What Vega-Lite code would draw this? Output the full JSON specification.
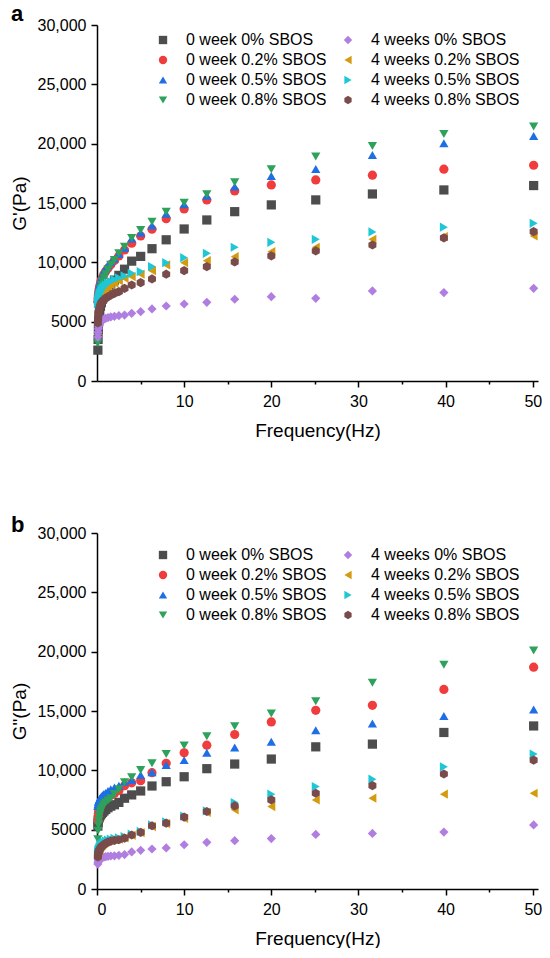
{
"$schema": "https://vega.github.io/schema/vega-lite/v6.json",
"background": "white",
"padding": {"left": 10, "top": 3, "right": 5, "bottom": 0},
"config": {
"font": "Liberation Sans",
"view": {"stroke": null},
"axis": {"domainColor": "black", "domainWidth": 1.5, "tickColor": "black", "tickWidth": 1.5, "labelColor": "black", "titleColor": "black", "labelFontSize": 16, "titleFontSize": 19, "titleFontWeight": "normal", "grid": false, "labelFont": "Liberation Sans", "titleFont": "Liberation Sans"},
"legend": {"labelFont": "Liberation Sans", "labelFontSize": 16, "labelColor": "black"},
"concat": {"spacing": 74}
},
"datasets": {
"gp": [
{"s":"0 week 0% SBOS","f":0.1,"v":2600},{"s":"0 week 0% SBOS","f":0.126,"v":3500},{"s":"0 week 0% SBOS","f":0.158,"v":4300},{"s":"0 week 0% SBOS","f":0.2,"v":5000},{"s":"0 week 0% SBOS","f":0.251,"v":5500},{"s":"0 week 0% SBOS","f":0.316,"v":5900},{"s":"0 week 0% SBOS","f":0.398,"v":6300},{"s":"0 week 0% SBOS","f":0.501,"v":6600},{"s":"0 week 0% SBOS","f":0.631,"v":6900},{"s":"0 week 0% SBOS","f":0.794,"v":7200},{"s":"0 week 0% SBOS","f":1,"v":7500},{"s":"0 week 0% SBOS","f":1.26,"v":7800},{"s":"0 week 0% SBOS","f":1.58,"v":8100},{"s":"0 week 0% SBOS","f":2,"v":8500},{"s":"0 week 0% SBOS","f":2.51,"v":8900},{"s":"0 week 0% SBOS","f":3.16,"v":9420},{"s":"0 week 0% SBOS","f":3.98,"v":10100},{"s":"0 week 0% SBOS","f":5.01,"v":10500},{"s":"0 week 0% SBOS","f":6.31,"v":11150},{"s":"0 week 0% SBOS","f":7.94,"v":11900},{"s":"0 week 0% SBOS","f":10,"v":12810},{"s":"0 week 0% SBOS","f":12.6,"v":13570},{"s":"0 week 0% SBOS","f":15.8,"v":14270},{"s":"0 week 0% SBOS","f":20,"v":14840},{"s":"0 week 0% SBOS","f":25.1,"v":15260},{"s":"0 week 0% SBOS","f":31.6,"v":15760},{"s":"0 week 0% SBOS","f":39.8,"v":16100},{"s":"0 week 0% SBOS","f":50.1,"v":16470},
{"s":"0 week 0.2% SBOS","f":0.1,"v":6700},{"s":"0 week 0.2% SBOS","f":0.126,"v":7000},{"s":"0 week 0.2% SBOS","f":0.158,"v":7250},{"s":"0 week 0.2% SBOS","f":0.2,"v":7500},{"s":"0 week 0.2% SBOS","f":0.251,"v":7750},{"s":"0 week 0.2% SBOS","f":0.316,"v":8000},{"s":"0 week 0.2% SBOS","f":0.398,"v":8250},{"s":"0 week 0.2% SBOS","f":0.501,"v":8500},{"s":"0 week 0.2% SBOS","f":0.631,"v":8750},{"s":"0 week 0.2% SBOS","f":0.794,"v":9000},{"s":"0 week 0.2% SBOS","f":1,"v":9250},{"s":"0 week 0.2% SBOS","f":1.26,"v":9500},{"s":"0 week 0.2% SBOS","f":1.58,"v":9800},{"s":"0 week 0.2% SBOS","f":2,"v":10150},{"s":"0 week 0.2% SBOS","f":2.51,"v":10540},{"s":"0 week 0.2% SBOS","f":3.16,"v":11040},{"s":"0 week 0.2% SBOS","f":3.98,"v":11610},{"s":"0 week 0.2% SBOS","f":5.01,"v":12220},{"s":"0 week 0.2% SBOS","f":6.31,"v":12790},{"s":"0 week 0.2% SBOS","f":7.94,"v":13680},{"s":"0 week 0.2% SBOS","f":10,"v":14500},{"s":"0 week 0.2% SBOS","f":12.6,"v":15260},{"s":"0 week 0.2% SBOS","f":15.8,"v":16020},{"s":"0 week 0.2% SBOS","f":20,"v":16520},{"s":"0 week 0.2% SBOS","f":25.1,"v":16940},{"s":"0 week 0.2% SBOS","f":31.6,"v":17340},{"s":"0 week 0.2% SBOS","f":39.8,"v":17850},{"s":"0 week 0.2% SBOS","f":50.1,"v":18180},
{"s":"0 week 0.5% SBOS","f":0.1,"v":6900},{"s":"0 week 0.5% SBOS","f":0.126,"v":7200},{"s":"0 week 0.5% SBOS","f":0.158,"v":7500},{"s":"0 week 0.5% SBOS","f":0.2,"v":7750},{"s":"0 week 0.5% SBOS","f":0.251,"v":8000},{"s":"0 week 0.5% SBOS","f":0.316,"v":8250},{"s":"0 week 0.5% SBOS","f":0.398,"v":8500},{"s":"0 week 0.5% SBOS","f":0.501,"v":8750},{"s":"0 week 0.5% SBOS","f":0.631,"v":9000},{"s":"0 week 0.5% SBOS","f":0.794,"v":9250},{"s":"0 week 0.5% SBOS","f":1,"v":9500},{"s":"0 week 0.5% SBOS","f":1.26,"v":9750},{"s":"0 week 0.5% SBOS","f":1.58,"v":10000},{"s":"0 week 0.5% SBOS","f":2,"v":10300},{"s":"0 week 0.5% SBOS","f":2.51,"v":10700},{"s":"0 week 0.5% SBOS","f":3.16,"v":11200},{"s":"0 week 0.5% SBOS","f":3.98,"v":12000},{"s":"0 week 0.5% SBOS","f":5.01,"v":12500},{"s":"0 week 0.5% SBOS","f":6.31,"v":13100},{"s":"0 week 0.5% SBOS","f":7.94,"v":14100},{"s":"0 week 0.5% SBOS","f":10,"v":14900},{"s":"0 week 0.5% SBOS","f":12.6,"v":15600},{"s":"0 week 0.5% SBOS","f":15.8,"v":16380},{"s":"0 week 0.5% SBOS","f":20,"v":17280},{"s":"0 week 0.5% SBOS","f":25.1,"v":17870},{"s":"0 week 0.5% SBOS","f":31.6,"v":19050},{"s":"0 week 0.5% SBOS","f":39.8,"v":20040},{"s":"0 week 0.5% SBOS","f":50.1,"v":20650},
{"s":"0 week 0.8% SBOS","f":0.1,"v":3200},{"s":"0 week 0.8% SBOS","f":0.126,"v":4500},{"s":"0 week 0.8% SBOS","f":0.158,"v":5600},{"s":"0 week 0.8% SBOS","f":0.2,"v":6400},{"s":"0 week 0.8% SBOS","f":0.251,"v":7000},{"s":"0 week 0.8% SBOS","f":0.316,"v":7400},{"s":"0 week 0.8% SBOS","f":0.398,"v":7800},{"s":"0 week 0.8% SBOS","f":0.501,"v":8100},{"s":"0 week 0.8% SBOS","f":0.631,"v":8400},{"s":"0 week 0.8% SBOS","f":0.794,"v":8700},{"s":"0 week 0.8% SBOS","f":1,"v":9000},{"s":"0 week 0.8% SBOS","f":1.26,"v":9400},{"s":"0 week 0.8% SBOS","f":1.58,"v":9800},{"s":"0 week 0.8% SBOS","f":2,"v":10200},{"s":"0 week 0.8% SBOS","f":2.51,"v":10760},{"s":"0 week 0.8% SBOS","f":3.16,"v":11320},{"s":"0 week 0.8% SBOS","f":3.98,"v":12050},{"s":"0 week 0.8% SBOS","f":5.01,"v":12730},{"s":"0 week 0.8% SBOS","f":6.31,"v":13430},{"s":"0 week 0.8% SBOS","f":7.94,"v":14270},{"s":"0 week 0.8% SBOS","f":10,"v":15030},{"s":"0 week 0.8% SBOS","f":12.6,"v":15740},{"s":"0 week 0.8% SBOS","f":15.8,"v":16750},{"s":"0 week 0.8% SBOS","f":20,"v":17850},{"s":"0 week 0.8% SBOS","f":25.1,"v":18910},{"s":"0 week 0.8% SBOS","f":31.6,"v":19810},{"s":"0 week 0.8% SBOS","f":39.8,"v":20820},{"s":"0 week 0.8% SBOS","f":50.1,"v":21440},
{"s":"4 weeks 0% SBOS","f":0.1,"v":3700},{"s":"4 weeks 0% SBOS","f":0.126,"v":4100},{"s":"4 weeks 0% SBOS","f":0.158,"v":4400},{"s":"4 weeks 0% SBOS","f":0.2,"v":4600},{"s":"4 weeks 0% SBOS","f":0.251,"v":4750},{"s":"4 weeks 0% SBOS","f":0.316,"v":4870},{"s":"4 weeks 0% SBOS","f":0.398,"v":4970},{"s":"4 weeks 0% SBOS","f":0.501,"v":5060},{"s":"4 weeks 0% SBOS","f":0.631,"v":5140},{"s":"4 weeks 0% SBOS","f":0.794,"v":5210},{"s":"4 weeks 0% SBOS","f":1,"v":5280},{"s":"4 weeks 0% SBOS","f":1.26,"v":5340},{"s":"4 weeks 0% SBOS","f":1.58,"v":5400},{"s":"4 weeks 0% SBOS","f":2,"v":5450},{"s":"4 weeks 0% SBOS","f":2.51,"v":5500},{"s":"4 weeks 0% SBOS","f":3.16,"v":5560},{"s":"4 weeks 0% SBOS","f":3.98,"v":5700},{"s":"4 weeks 0% SBOS","f":5.01,"v":5840},{"s":"4 weeks 0% SBOS","f":6.31,"v":6070},{"s":"4 weeks 0% SBOS","f":7.94,"v":6320},{"s":"4 weeks 0% SBOS","f":10,"v":6490},{"s":"4 weeks 0% SBOS","f":12.6,"v":6630},{"s":"4 weeks 0% SBOS","f":15.8,"v":6890},{"s":"4 weeks 0% SBOS","f":20,"v":7110},{"s":"4 weeks 0% SBOS","f":25.1,"v":6970},{"s":"4 weeks 0% SBOS","f":31.6,"v":7590},{"s":"4 weeks 0% SBOS","f":39.8,"v":7450},{"s":"4 weeks 0% SBOS","f":50.1,"v":7810},
{"s":"4 weeks 0.2% SBOS","f":0.1,"v":6200},{"s":"4 weeks 0.2% SBOS","f":0.126,"v":6400},{"s":"4 weeks 0.2% SBOS","f":0.158,"v":6600},{"s":"4 weeks 0.2% SBOS","f":0.2,"v":6750},{"s":"4 weeks 0.2% SBOS","f":0.251,"v":6900},{"s":"4 weeks 0.2% SBOS","f":0.316,"v":7050},{"s":"4 weeks 0.2% SBOS","f":0.398,"v":7200},{"s":"4 weeks 0.2% SBOS","f":0.501,"v":7350},{"s":"4 weeks 0.2% SBOS","f":0.631,"v":7500},{"s":"4 weeks 0.2% SBOS","f":0.794,"v":7650},{"s":"4 weeks 0.2% SBOS","f":1,"v":7800},{"s":"4 weeks 0.2% SBOS","f":1.26,"v":7950},{"s":"4 weeks 0.2% SBOS","f":1.58,"v":8100},{"s":"4 weeks 0.2% SBOS","f":2,"v":8250},{"s":"4 weeks 0.2% SBOS","f":2.51,"v":8450},{"s":"4 weeks 0.2% SBOS","f":3.16,"v":8650},{"s":"4 weeks 0.2% SBOS","f":3.98,"v":8800},{"s":"4 weeks 0.2% SBOS","f":5.01,"v":9000},{"s":"4 weeks 0.2% SBOS","f":6.31,"v":9300},{"s":"4 weeks 0.2% SBOS","f":7.94,"v":9780},{"s":"4 weeks 0.2% SBOS","f":10,"v":9970},{"s":"4 weeks 0.2% SBOS","f":12.6,"v":10140},{"s":"4 weeks 0.2% SBOS","f":15.8,"v":10480},{"s":"4 weeks 0.2% SBOS","f":20,"v":10900},{"s":"4 weeks 0.2% SBOS","f":25.1,"v":11270},{"s":"4 weeks 0.2% SBOS","f":31.6,"v":11940},{"s":"4 weeks 0.2% SBOS","f":39.8,"v":12170},{"s":"4 weeks 0.2% SBOS","f":50.1,"v":12220},
{"s":"4 weeks 0.5% SBOS","f":0.1,"v":6500},{"s":"4 weeks 0.5% SBOS","f":0.126,"v":6700},{"s":"4 weeks 0.5% SBOS","f":0.158,"v":6900},{"s":"4 weeks 0.5% SBOS","f":0.2,"v":7050},{"s":"4 weeks 0.5% SBOS","f":0.251,"v":7200},{"s":"4 weeks 0.5% SBOS","f":0.316,"v":7350},{"s":"4 weeks 0.5% SBOS","f":0.398,"v":7500},{"s":"4 weeks 0.5% SBOS","f":0.501,"v":7650},{"s":"4 weeks 0.5% SBOS","f":0.631,"v":7800},{"s":"4 weeks 0.5% SBOS","f":0.794,"v":7950},{"s":"4 weeks 0.5% SBOS","f":1,"v":8100},{"s":"4 weeks 0.5% SBOS","f":1.26,"v":8250},{"s":"4 weeks 0.5% SBOS","f":1.58,"v":8400},{"s":"4 weeks 0.5% SBOS","f":2,"v":8550},{"s":"4 weeks 0.5% SBOS","f":2.51,"v":8700},{"s":"4 weeks 0.5% SBOS","f":3.16,"v":8850},{"s":"4 weeks 0.5% SBOS","f":3.98,"v":9080},{"s":"4 weeks 0.5% SBOS","f":5.01,"v":9220},{"s":"4 weeks 0.5% SBOS","f":6.31,"v":9640},{"s":"4 weeks 0.5% SBOS","f":7.94,"v":9970},{"s":"4 weeks 0.5% SBOS","f":10,"v":10390},{"s":"4 weeks 0.5% SBOS","f":12.6,"v":10760},{"s":"4 weeks 0.5% SBOS","f":15.8,"v":11270},{"s":"4 weeks 0.5% SBOS","f":20,"v":11690},{"s":"4 weeks 0.5% SBOS","f":25.1,"v":11940},{"s":"4 weeks 0.5% SBOS","f":31.6,"v":12560},{"s":"4 weeks 0.5% SBOS","f":39.8,"v":12960},{"s":"4 weeks 0.5% SBOS","f":50.1,"v":13290},
{"s":"4 weeks 0.8% SBOS","f":0.1,"v":4900},{"s":"4 weeks 0.8% SBOS","f":0.126,"v":5300},{"s":"4 weeks 0.8% SBOS","f":0.158,"v":5600},{"s":"4 weeks 0.8% SBOS","f":0.2,"v":5850},{"s":"4 weeks 0.8% SBOS","f":0.251,"v":6050},{"s":"4 weeks 0.8% SBOS","f":0.316,"v":6250},{"s":"4 weeks 0.8% SBOS","f":0.398,"v":6420},{"s":"4 weeks 0.8% SBOS","f":0.501,"v":6580},{"s":"4 weeks 0.8% SBOS","f":0.631,"v":6720},{"s":"4 weeks 0.8% SBOS","f":0.794,"v":6850},{"s":"4 weeks 0.8% SBOS","f":1,"v":6980},{"s":"4 weeks 0.8% SBOS","f":1.26,"v":7100},{"s":"4 weeks 0.8% SBOS","f":1.58,"v":7230},{"s":"4 weeks 0.8% SBOS","f":2,"v":7380},{"s":"4 weeks 0.8% SBOS","f":2.51,"v":7530},{"s":"4 weeks 0.8% SBOS","f":3.16,"v":7810},{"s":"4 weeks 0.8% SBOS","f":3.98,"v":8090},{"s":"4 weeks 0.8% SBOS","f":5.01,"v":8290},{"s":"4 weeks 0.8% SBOS","f":6.31,"v":8600},{"s":"4 weeks 0.8% SBOS","f":7.94,"v":9000},{"s":"4 weeks 0.8% SBOS","f":10,"v":9300},{"s":"4 weeks 0.8% SBOS","f":12.6,"v":9640},{"s":"4 weeks 0.8% SBOS","f":15.8,"v":10030},{"s":"4 weeks 0.8% SBOS","f":20,"v":10540},{"s":"4 weeks 0.8% SBOS","f":25.1,"v":10960},{"s":"4 weeks 0.8% SBOS","f":31.6,"v":11460},{"s":"4 weeks 0.8% SBOS","f":39.8,"v":12060},{"s":"4 weeks 0.8% SBOS","f":50.1,"v":12590}
],
"gpp": [
{"s":"0 week 0% SBOS","f":0.1,"v":5300},{"s":"0 week 0% SBOS","f":0.126,"v":5600},{"s":"0 week 0% SBOS","f":0.158,"v":5800},{"s":"0 week 0% SBOS","f":0.2,"v":5950},{"s":"0 week 0% SBOS","f":0.251,"v":6050},{"s":"0 week 0% SBOS","f":0.316,"v":6150},{"s":"0 week 0% SBOS","f":0.398,"v":6250},{"s":"0 week 0% SBOS","f":0.501,"v":6350},{"s":"0 week 0% SBOS","f":0.631,"v":6450},{"s":"0 week 0% SBOS","f":0.794,"v":6570},{"s":"0 week 0% SBOS","f":1,"v":6700},{"s":"0 week 0% SBOS","f":1.26,"v":6850},{"s":"0 week 0% SBOS","f":1.58,"v":6980},{"s":"0 week 0% SBOS","f":2,"v":7100},{"s":"0 week 0% SBOS","f":2.51,"v":7300},{"s":"0 week 0% SBOS","f":3.16,"v":7650},{"s":"0 week 0% SBOS","f":3.98,"v":7930},{"s":"0 week 0% SBOS","f":5.01,"v":8260},{"s":"0 week 0% SBOS","f":6.31,"v":8680},{"s":"0 week 0% SBOS","f":7.94,"v":9040},{"s":"0 week 0% SBOS","f":10,"v":9460},{"s":"0 week 0% SBOS","f":12.6,"v":10140},{"s":"0 week 0% SBOS","f":15.8,"v":10530},{"s":"0 week 0% SBOS","f":20,"v":10950},{"s":"0 week 0% SBOS","f":25.1,"v":11980},{"s":"0 week 0% SBOS","f":31.6,"v":12210},{"s":"0 week 0% SBOS","f":39.8,"v":13190},{"s":"0 week 0% SBOS","f":50.1,"v":13740},
{"s":"0 week 0.2% SBOS","f":0.1,"v":5800},{"s":"0 week 0.2% SBOS","f":0.126,"v":6100},{"s":"0 week 0.2% SBOS","f":0.158,"v":6350},{"s":"0 week 0.2% SBOS","f":0.2,"v":6550},{"s":"0 week 0.2% SBOS","f":0.251,"v":6700},{"s":"0 week 0.2% SBOS","f":0.316,"v":6850},{"s":"0 week 0.2% SBOS","f":0.398,"v":7000},{"s":"0 week 0.2% SBOS","f":0.501,"v":7150},{"s":"0 week 0.2% SBOS","f":0.631,"v":7300},{"s":"0 week 0.2% SBOS","f":0.794,"v":7450},{"s":"0 week 0.2% SBOS","f":1,"v":7600},{"s":"0 week 0.2% SBOS","f":1.26,"v":7750},{"s":"0 week 0.2% SBOS","f":1.58,"v":7900},{"s":"0 week 0.2% SBOS","f":2,"v":8050},{"s":"0 week 0.2% SBOS","f":2.51,"v":8300},{"s":"0 week 0.2% SBOS","f":3.16,"v":8700},{"s":"0 week 0.2% SBOS","f":3.98,"v":8950},{"s":"0 week 0.2% SBOS","f":5.01,"v":9130},{"s":"0 week 0.2% SBOS","f":6.31,"v":9800},{"s":"0 week 0.2% SBOS","f":7.94,"v":10590},{"s":"0 week 0.2% SBOS","f":10,"v":11480},{"s":"0 week 0.2% SBOS","f":12.6,"v":12120},{"s":"0 week 0.2% SBOS","f":15.8,"v":13020},{"s":"0 week 0.2% SBOS","f":20,"v":14080},{"s":"0 week 0.2% SBOS","f":25.1,"v":15060},{"s":"0 week 0.2% SBOS","f":31.6,"v":15480},{"s":"0 week 0.2% SBOS","f":39.8,"v":16820},{"s":"0 week 0.2% SBOS","f":50.1,"v":18690},
{"s":"0 week 0.5% SBOS","f":0.1,"v":7000},{"s":"0 week 0.5% SBOS","f":0.126,"v":7150},{"s":"0 week 0.5% SBOS","f":0.158,"v":7300},{"s":"0 week 0.5% SBOS","f":0.2,"v":7400},{"s":"0 week 0.5% SBOS","f":0.251,"v":7500},{"s":"0 week 0.5% SBOS","f":0.316,"v":7600},{"s":"0 week 0.5% SBOS","f":0.398,"v":7700},{"s":"0 week 0.5% SBOS","f":0.501,"v":7800},{"s":"0 week 0.5% SBOS","f":0.631,"v":7900},{"s":"0 week 0.5% SBOS","f":0.794,"v":8000},{"s":"0 week 0.5% SBOS","f":1,"v":8100},{"s":"0 week 0.5% SBOS","f":1.26,"v":8250},{"s":"0 week 0.5% SBOS","f":1.58,"v":8400},{"s":"0 week 0.5% SBOS","f":2,"v":8550},{"s":"0 week 0.5% SBOS","f":2.51,"v":8700},{"s":"0 week 0.5% SBOS","f":3.16,"v":9040},{"s":"0 week 0.5% SBOS","f":3.98,"v":9190},{"s":"0 week 0.5% SBOS","f":5.01,"v":9610},{"s":"0 week 0.5% SBOS","f":6.31,"v":9830},{"s":"0 week 0.5% SBOS","f":7.94,"v":10440},{"s":"0 week 0.5% SBOS","f":10,"v":10860},{"s":"0 week 0.5% SBOS","f":12.6,"v":11480},{"s":"0 week 0.5% SBOS","f":15.8,"v":11930},{"s":"0 week 0.5% SBOS","f":20,"v":12400},{"s":"0 week 0.5% SBOS","f":25.1,"v":13380},{"s":"0 week 0.5% SBOS","f":31.6,"v":13940},{"s":"0 week 0.5% SBOS","f":39.8,"v":14580},{"s":"0 week 0.5% SBOS","f":50.1,"v":15120},
{"s":"0 week 0.8% SBOS","f":0.1,"v":4200},{"s":"0 week 0.8% SBOS","f":0.126,"v":4900},{"s":"0 week 0.8% SBOS","f":0.158,"v":5400},{"s":"0 week 0.8% SBOS","f":0.2,"v":5800},{"s":"0 week 0.8% SBOS","f":0.251,"v":6100},{"s":"0 week 0.8% SBOS","f":0.316,"v":6350},{"s":"0 week 0.8% SBOS","f":0.398,"v":6550},{"s":"0 week 0.8% SBOS","f":0.501,"v":6750},{"s":"0 week 0.8% SBOS","f":0.631,"v":6950},{"s":"0 week 0.8% SBOS","f":0.794,"v":7150},{"s":"0 week 0.8% SBOS","f":1,"v":7300},{"s":"0 week 0.8% SBOS","f":1.26,"v":7450},{"s":"0 week 0.8% SBOS","f":1.58,"v":7650},{"s":"0 week 0.8% SBOS","f":2,"v":8000},{"s":"0 week 0.8% SBOS","f":2.51,"v":8400},{"s":"0 week 0.8% SBOS","f":3.16,"v":9000},{"s":"0 week 0.8% SBOS","f":3.98,"v":9410},{"s":"0 week 0.8% SBOS","f":5.01,"v":10030},{"s":"0 week 0.8% SBOS","f":6.31,"v":10590},{"s":"0 week 0.8% SBOS","f":7.94,"v":11370},{"s":"0 week 0.8% SBOS","f":10,"v":12100},{"s":"0 week 0.8% SBOS","f":12.6,"v":12880},{"s":"0 week 0.8% SBOS","f":15.8,"v":13720},{"s":"0 week 0.8% SBOS","f":20,"v":14780},{"s":"0 week 0.8% SBOS","f":25.1,"v":15820},{"s":"0 week 0.8% SBOS","f":31.6,"v":17380},{"s":"0 week 0.8% SBOS","f":39.8,"v":18890},{"s":"0 week 0.8% SBOS","f":50.1,"v":20090},
{"s":"4 weeks 0% SBOS","f":0.1,"v":2100},{"s":"4 weeks 0% SBOS","f":0.126,"v":2250},{"s":"4 weeks 0% SBOS","f":0.158,"v":2350},{"s":"4 weeks 0% SBOS","f":0.2,"v":2420},{"s":"4 weeks 0% SBOS","f":0.251,"v":2480},{"s":"4 weeks 0% SBOS","f":0.316,"v":2530},{"s":"4 weeks 0% SBOS","f":0.398,"v":2570},{"s":"4 weeks 0% SBOS","f":0.501,"v":2610},{"s":"4 weeks 0% SBOS","f":0.631,"v":2650},{"s":"4 weeks 0% SBOS","f":0.794,"v":2690},{"s":"4 weeks 0% SBOS","f":1,"v":2720},{"s":"4 weeks 0% SBOS","f":1.26,"v":2750},{"s":"4 weeks 0% SBOS","f":1.58,"v":2780},{"s":"4 weeks 0% SBOS","f":2,"v":2800},{"s":"4 weeks 0% SBOS","f":2.51,"v":2840},{"s":"4 weeks 0% SBOS","f":3.16,"v":2900},{"s":"4 weeks 0% SBOS","f":3.98,"v":3120},{"s":"4 weeks 0% SBOS","f":5.01,"v":3260},{"s":"4 weeks 0% SBOS","f":6.31,"v":3370},{"s":"4 weeks 0% SBOS","f":7.94,"v":3460},{"s":"4 weeks 0% SBOS","f":10,"v":3730},{"s":"4 weeks 0% SBOS","f":12.6,"v":3930},{"s":"4 weeks 0% SBOS","f":15.8,"v":4070},{"s":"4 weeks 0% SBOS","f":20,"v":4250},{"s":"4 weeks 0% SBOS","f":25.1,"v":4600},{"s":"4 weeks 0% SBOS","f":31.6,"v":4680},{"s":"4 weeks 0% SBOS","f":39.8,"v":4800},{"s":"4 weeks 0% SBOS","f":50.1,"v":5400},
{"s":"4 weeks 0.2% SBOS","f":0.1,"v":2800},{"s":"4 weeks 0.2% SBOS","f":0.126,"v":3000},{"s":"4 weeks 0.2% SBOS","f":0.158,"v":3150},{"s":"4 weeks 0.2% SBOS","f":0.2,"v":3250},{"s":"4 weeks 0.2% SBOS","f":0.251,"v":3350},{"s":"4 weeks 0.2% SBOS","f":0.316,"v":3450},{"s":"4 weeks 0.2% SBOS","f":0.398,"v":3550},{"s":"4 weeks 0.2% SBOS","f":0.501,"v":3650},{"s":"4 weeks 0.2% SBOS","f":0.631,"v":3750},{"s":"4 weeks 0.2% SBOS","f":0.794,"v":3850},{"s":"4 weeks 0.2% SBOS","f":1,"v":3950},{"s":"4 weeks 0.2% SBOS","f":1.26,"v":4030},{"s":"4 weeks 0.2% SBOS","f":1.58,"v":4100},{"s":"4 weeks 0.2% SBOS","f":2,"v":4150},{"s":"4 weeks 0.2% SBOS","f":2.51,"v":4200},{"s":"4 weeks 0.2% SBOS","f":3.16,"v":4300},{"s":"4 weeks 0.2% SBOS","f":3.98,"v":4520},{"s":"4 weeks 0.2% SBOS","f":5.01,"v":4750},{"s":"4 weeks 0.2% SBOS","f":6.31,"v":5250},{"s":"4 weeks 0.2% SBOS","f":7.94,"v":5500},{"s":"4 weeks 0.2% SBOS","f":10,"v":5950},{"s":"4 weeks 0.2% SBOS","f":12.6,"v":6450},{"s":"4 weeks 0.2% SBOS","f":15.8,"v":6670},{"s":"4 weeks 0.2% SBOS","f":20,"v":6950},{"s":"4 weeks 0.2% SBOS","f":25.1,"v":7510},{"s":"4 weeks 0.2% SBOS","f":31.6,"v":7650},{"s":"4 weeks 0.2% SBOS","f":39.8,"v":7990},{"s":"4 weeks 0.2% SBOS","f":50.1,"v":8070},
{"s":"4 weeks 0.5% SBOS","f":0.1,"v":2900},{"s":"4 weeks 0.5% SBOS","f":0.126,"v":3100},{"s":"4 weeks 0.5% SBOS","f":0.158,"v":3250},{"s":"4 weeks 0.5% SBOS","f":0.2,"v":3350},{"s":"4 weeks 0.5% SBOS","f":0.251,"v":3450},{"s":"4 weeks 0.5% SBOS","f":0.316,"v":3550},{"s":"4 weeks 0.5% SBOS","f":0.398,"v":3650},{"s":"4 weeks 0.5% SBOS","f":0.501,"v":3750},{"s":"4 weeks 0.5% SBOS","f":0.631,"v":3850},{"s":"4 weeks 0.5% SBOS","f":0.794,"v":3950},{"s":"4 weeks 0.5% SBOS","f":1,"v":4050},{"s":"4 weeks 0.5% SBOS","f":1.26,"v":4120},{"s":"4 weeks 0.5% SBOS","f":1.58,"v":4200},{"s":"4 weeks 0.5% SBOS","f":2,"v":4260},{"s":"4 weeks 0.5% SBOS","f":2.51,"v":4320},{"s":"4 weeks 0.5% SBOS","f":3.16,"v":4420},{"s":"4 weeks 0.5% SBOS","f":3.98,"v":4620},{"s":"4 weeks 0.5% SBOS","f":5.01,"v":4850},{"s":"4 weeks 0.5% SBOS","f":6.31,"v":5400},{"s":"4 weeks 0.5% SBOS","f":7.94,"v":5650},{"s":"4 weeks 0.5% SBOS","f":10,"v":6150},{"s":"4 weeks 0.5% SBOS","f":12.6,"v":6590},{"s":"4 weeks 0.5% SBOS","f":15.8,"v":7280},{"s":"4 weeks 0.5% SBOS","f":20,"v":7990},{"s":"4 weeks 0.5% SBOS","f":25.1,"v":8630},{"s":"4 weeks 0.5% SBOS","f":31.6,"v":9250},{"s":"4 weeks 0.5% SBOS","f":39.8,"v":10300},{"s":"4 weeks 0.5% SBOS","f":50.1,"v":11370},
{"s":"4 weeks 0.8% SBOS","f":0.1,"v":2700},{"s":"4 weeks 0.8% SBOS","f":0.126,"v":2900},{"s":"4 weeks 0.8% SBOS","f":0.158,"v":3050},{"s":"4 weeks 0.8% SBOS","f":0.2,"v":3150},{"s":"4 weeks 0.8% SBOS","f":0.251,"v":3250},{"s":"4 weeks 0.8% SBOS","f":0.316,"v":3350},{"s":"4 weeks 0.8% SBOS","f":0.398,"v":3450},{"s":"4 weeks 0.8% SBOS","f":0.501,"v":3550},{"s":"4 weeks 0.8% SBOS","f":0.631,"v":3650},{"s":"4 weeks 0.8% SBOS","f":0.794,"v":3750},{"s":"4 weeks 0.8% SBOS","f":1,"v":3850},{"s":"4 weeks 0.8% SBOS","f":1.26,"v":3950},{"s":"4 weeks 0.8% SBOS","f":1.58,"v":4030},{"s":"4 weeks 0.8% SBOS","f":2,"v":4100},{"s":"4 weeks 0.8% SBOS","f":2.51,"v":4150},{"s":"4 weeks 0.8% SBOS","f":3.16,"v":4290},{"s":"4 weeks 0.8% SBOS","f":3.98,"v":4550},{"s":"4 weeks 0.8% SBOS","f":5.01,"v":4770},{"s":"4 weeks 0.8% SBOS","f":6.31,"v":5330},{"s":"4 weeks 0.8% SBOS","f":7.94,"v":5550},{"s":"4 weeks 0.8% SBOS","f":10,"v":6060},{"s":"4 weeks 0.8% SBOS","f":12.6,"v":6530},{"s":"4 weeks 0.8% SBOS","f":15.8,"v":7000},{"s":"4 weeks 0.8% SBOS","f":20,"v":7510},{"s":"4 weeks 0.8% SBOS","f":25.1,"v":8070},{"s":"4 weeks 0.8% SBOS","f":31.6,"v":8710},{"s":"4 weeks 0.8% SBOS","f":39.8,"v":9690},{"s":"4 weeks 0.8% SBOS","f":50.1,"v":10860}
]
},
"vconcat": [
{
"width": 441, "height": 356,
"title": {"text": "a", "anchor": "start", "frame": "group", "dx": -86, "dy": 30, "offset": 4, "fontSize": 22, "fontWeight": "bold", "baseline": "alphabetic", "font": "Liberation Sans", "color": "black"},
"data": {"name": "gp"},
"mark": {"type": "point", "filled": true, "size": 85, "opacity": 1, "strokeWidth": 0},
"encoding": {
"x": {"field": "f", "type": "quantitative", "scale": {"domain": [0, 50.6], "nice": false, "zero": false},
 "axis": {"title": "Frequency(Hz)", "values": [5,10,15,20,25,30,35,40,45,50], "tickSize": {"condition": {"test": "datum.value % 10 !== 0", "value": 3}, "value": 6}, "labelExpr": "datum.value % 10 === 0 ? datum.label : ''", "labelPadding": 6, "titlePadding": 12}},
"y": {"field": "v", "type": "quantitative", "scale": {"domain": [0, 30000], "nice": false},
 "axis": {"title": "G'(Pa)", "values": [0,5000,10000,15000,20000,25000,30000], "labelExpr": "datum.value >= 10000 ? format(datum.value, ',') : format(datum.value, 'd')", "tickSize": 6, "labelPadding": 5, "titlePadding": 8}},
"color": {"field": "s", "type": "nominal",
 "scale": {"domain": ["0 week 0% SBOS","0 week 0.2% SBOS","0 week 0.5% SBOS","0 week 0.8% SBOS","4 weeks 0% SBOS","4 weeks 0.2% SBOS","4 weeks 0.5% SBOS","4 weeks 0.8% SBOS"], "range": ["#4d4d4d","#f03c3c","#1e6fe4","#2ea15c","#b07ee0","#d49a10","#1ec6d6","#7a4b4b"]},
 "legend": {"title": null, "orient": "none", "legendX": 58, "legendY": 7, "columns": 2, "symbolSize": 70, "rowPadding": 4, "columnPadding": 13, "labelOffset": 15, "symbolOpacity": 1, "symbolStrokeWidth": 0}},
"shape": {"field": "s", "type": "nominal",
 "scale": {"domain": ["0 week 0% SBOS","0 week 0.2% SBOS","0 week 0.5% SBOS","0 week 0.8% SBOS","4 weeks 0% SBOS","4 weeks 0.2% SBOS","4 weeks 0.5% SBOS","4 weeks 0.8% SBOS"], "range": ["square","circle","triangle-up","triangle-down","diamond","triangle-left","triangle-right","M0,-1L0.866,-0.5L0.866,0.5L0,1L-0.866,0.5L-0.866,-0.5Z"]},
 "legend": {"title": null, "orient": "none", "legendX": 58, "legendY": 7, "columns": 2, "symbolSize": 70, "rowPadding": 4, "columnPadding": 13, "labelOffset": 15, "symbolOpacity": 1, "symbolStrokeWidth": 0}}
}
},
{
"width": 441, "height": 356,
"title": {"text": "b", "anchor": "start", "frame": "group", "dx": -86, "dy": 30, "offset": 1, "fontSize": 22, "fontWeight": "bold", "baseline": "alphabetic", "font": "Liberation Sans", "color": "black"},
"data": {"name": "gpp"},
"mark": {"type": "point", "filled": true, "size": 85, "opacity": 1, "strokeWidth": 0},
"encoding": {
"x": {"field": "f", "type": "quantitative", "scale": {"domain": [0, 50.6], "nice": false, "zero": false},
 "axis": {"title": "Frequency(Hz)", "values": [0,5,10,15,20,25,30,35,40,45,50], "tickSize": {"condition": {"test": "datum.value % 10 !== 0", "value": 3}, "value": 6}, "labelExpr": "datum.value % 10 === 0 ? datum.label : ''", "labelPadding": 6, "titlePadding": 12}},
"y": {"field": "v", "type": "quantitative", "scale": {"domain": [0, 30000], "nice": false},
 "axis": {"title": "G\"(Pa)", "values": [0,5000,10000,15000,20000,25000,30000], "labelExpr": "datum.value >= 10000 ? format(datum.value, ',') : format(datum.value, 'd')", "tickSize": 6, "labelPadding": 5, "titlePadding": 8}},
"color": {"field": "s", "type": "nominal",
 "scale": {"domain": ["0 week 0% SBOS","0 week 0.2% SBOS","0 week 0.5% SBOS","0 week 0.8% SBOS","4 weeks 0% SBOS","4 weeks 0.2% SBOS","4 weeks 0.5% SBOS","4 weeks 0.8% SBOS"], "range": ["#4d4d4d","#f03c3c","#1e6fe4","#2ea15c","#b07ee0","#d49a10","#1ec6d6","#7a4b4b"]},
 "legend": {"title": null, "orient": "none", "legendX": 58, "legendY": 14, "columns": 2, "symbolSize": 70, "rowPadding": 4, "columnPadding": 13, "labelOffset": 15, "symbolOpacity": 1, "symbolStrokeWidth": 0}},
"shape": {"field": "s", "type": "nominal",
 "scale": {"domain": ["0 week 0% SBOS","0 week 0.2% SBOS","0 week 0.5% SBOS","0 week 0.8% SBOS","4 weeks 0% SBOS","4 weeks 0.2% SBOS","4 weeks 0.5% SBOS","4 weeks 0.8% SBOS"], "range": ["square","circle","triangle-up","triangle-down","diamond","triangle-left","triangle-right","M0,-1L0.866,-0.5L0.866,0.5L0,1L-0.866,0.5L-0.866,-0.5Z"]},
 "legend": {"title": null, "orient": "none", "legendX": 58, "legendY": 14, "columns": 2, "symbolSize": 70, "rowPadding": 4, "columnPadding": 13, "labelOffset": 15, "symbolOpacity": 1, "symbolStrokeWidth": 0}}
}
}
],
"resolve": {"scale": {"color": "independent", "shape": "independent"}}
}
